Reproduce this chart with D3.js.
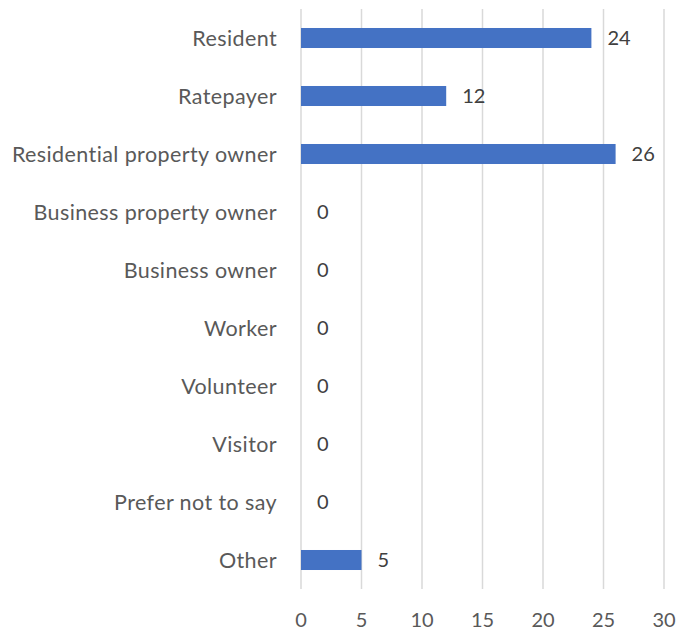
<!DOCTYPE html>
<html><head><meta charset="utf-8">
<script src="https://cdn.jsdelivr.net/npm/d3@7"></script>
<style>body{margin:0;background:#fff} text{font-variant-ligatures:none}</style>
</head><body>
<svg id="c" width="685" height="633"></svg>
<script>
const categories = ["Resident","Ratepayer","Residential property owner","Business property owner","Business owner","Worker","Volunteer","Visitor","Prefer not to say","Other"];
const values = [24,12,26,0,0,0,0,0,0,5];
const ticks = [0,5,10,15,20,25,30];

const svg = d3.select("#c");
const x = d3.scaleLinear().domain([0,30]).range([301,664]);
const y = d3.scaleBand().domain(categories).range([9,589]).paddingInner(0.655).paddingOuter(0.3275);
const font = "Lato, sans-serif";
const fs = 20;

svg.append("g").selectAll("line").data(ticks).join("line")
  .attr("x1",d=>x(d)).attr("x2",d=>x(d)).attr("y1",9).attr("y2",589)
  .attr("stroke","#d9d9d9").attr("stroke-width",1.5);

svg.append("g").selectAll("rect").data(values).join("rect")
  .attr("x",x(0)).attr("y",(d,i)=>y(categories[i]))
  .attr("width",d=>x(d)-x(0)).attr("height",y.bandwidth())
  .attr("fill","#4472c4");

svg.append("g").selectAll("text").data(values).join("text")
  .attr("x",d=>x(d)+16).attr("y",(d,i)=>y(categories[i])+y.bandwidth()/2)
  .attr("dy","0.36em").attr("font-family",font).attr("font-size",fs)
  .attr("fill","#404040").text(d=>d);

svg.append("g").selectAll("text").data(categories).join("text")
  .attr("x",277).attr("y",d=>y(d)+y.bandwidth()/2).attr("dy","0.36em")
  .attr("text-anchor","end").attr("font-family",font).attr("font-size",21.5)
  .attr("letter-spacing",0.4)
  .attr("fill","#595959").text(d=>d);

svg.append("g").selectAll("text").data(ticks).join("text")
  .attr("x",d=>x(d)).attr("y",620).attr("dy","0.36em")
  .attr("text-anchor","middle").attr("font-family",font).attr("font-size",fs)
  .attr("fill","#595959").text(d=>d);
</script>
</body></html>
